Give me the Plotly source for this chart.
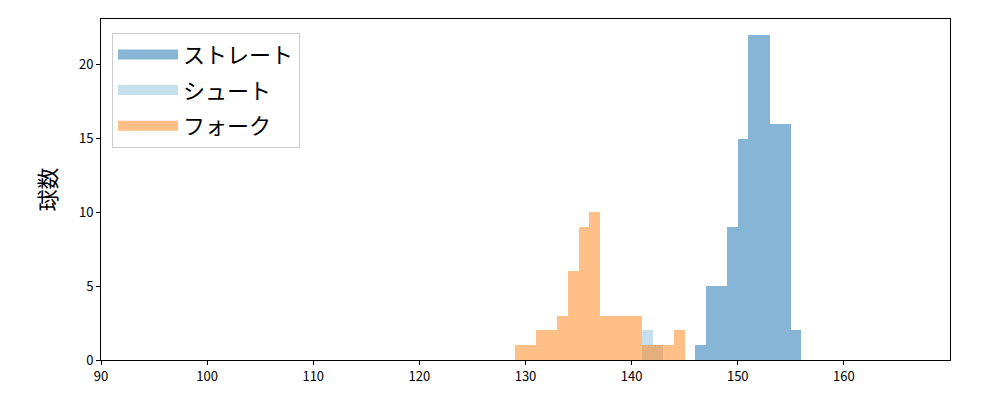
import plotly.graph_objects as go

# bin edges and counts per pitch type
straight_edges = [146, 147, 148, 149, 150, 151, 152, 153, 154, 155, 156]
straight_counts = [1, 5, 5, 9, 15, 22, 22, 16, 16, 2]

shoot_edges = [141, 142, 143]
shoot_counts = [2, 1]

fork_edges = [129, 130, 131, 132, 133, 134, 135, 136, 137, 138, 139, 140, 141, 142, 143, 144, 145]
fork_counts = [1, 1, 2, 2, 3, 6, 9, 10, 3, 3, 3, 3, 1, 1, 1, 2]

names = ["ストレート", "シュート", "フォーク"]
colors = ["rgba(31,119,180,0.54)", "rgba(158,202,225,0.6)", "rgba(255,127,14,0.5)"]

x_ticks = [90, 100, 110, 120, 130, 140, 150, 160]
y_ticks = [0, 5, 10, 15, 20]

FONT = "Noto Sans CJK JP"

fig = go.Figure()
for name, color, edges, counts in zip(
    names, colors,
    [straight_edges, shoot_edges, fork_edges],
    [straight_counts, shoot_counts, fork_counts],
):
    centers = [(a + b) / 2 for a, b in zip(edges[:-1], edges[1:])]
    widths = [b - a for a, b in zip(edges[:-1], edges[1:])]
    fig.add_trace(go.Bar(
        x=centers, y=counts, width=widths, name=name,
        marker=dict(color=color, line=dict(width=0)),
        showlegend=False, legendgroup=name,
    ))
    # legend-only entry with a wide rectangular swatch
    fig.add_trace(go.Scatter(
        x=[None], y=[None], mode="lines", name=name, legendgroup=name,
        line=dict(color=color, width=16),
    ))

fig.update_layout(
    width=992, height=392,
    barmode="overlay",
    bargap=0,
    plot_bgcolor="white",
    paper_bgcolor="white",
    margin=dict(l=93, r=50, t=11, b=40),
    font=dict(family=FONT, color="black", size=13),
    legend=dict(
        x=0.013, y=0.96, xanchor="left", yanchor="top",
        bgcolor="rgba(255,255,255,0.8)",
        bordercolor="#cccccc", borderwidth=1,
        font=dict(size=22, family=FONT),
        itemwidth=60, tracegroupgap=4,
    ),
    xaxis=dict(
        range=[90, 170], tickvals=x_ticks, showgrid=False, zeroline=False,
        showline=True, linecolor="black", linewidth=1, mirror=True,
        ticks="outside", ticklen=4, tickcolor="black", automargin=False,
    ),
    yaxis=dict(
        range=[0, 23.1], tickvals=y_ticks, showgrid=False, zeroline=False,
        showline=True, linecolor="black", linewidth=1, mirror=True,
        ticks="outside", ticklen=4, tickcolor="black", automargin=False,
        title=dict(text="球数", font=dict(size=22, family=FONT), standoff=16),
    ),
)

fig.write_html("out.html")
